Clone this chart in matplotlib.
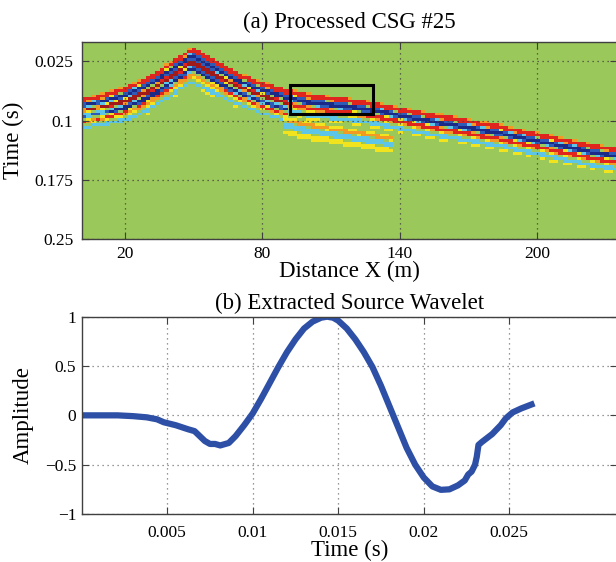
import numpy as np
import matplotlib
matplotlib.use("Agg")
import matplotlib.pyplot as plt
from matplotlib.colors import ListedColormap, BoundaryNorm
from matplotlib.patches import Rectangle

# ---------------- data ----------------
# (b) extracted source wavelet
wavelet_time = [0.0, 0.0010, 0.0021, 0.0030, 0.0038, 0.0044, 0.0048, 0.0055, 0.0062,
                0.0066, 0.0069, 0.0072, 0.0075, 0.0078, 0.0081, 0.0086, 0.0090, 0.0095,
                0.0100, 0.0105, 0.0110, 0.0115, 0.0120, 0.0125, 0.0130, 0.0135, 0.0140,
                0.01435, 0.0147, 0.0150, 0.0155, 0.0160, 0.0165, 0.0170, 0.0175, 0.0180,
                0.0185, 0.0190, 0.0195, 0.0200, 0.0205, 0.0210, 0.0215, 0.0220, 0.0224,
                0.0226, 0.0228, 0.0230, 0.0231, 0.0232, 0.0234, 0.0240, 0.0245, 0.0248,
                0.0252, 0.0257, 0.0263]
wavelet_amp = [0.0, 0.0, 0.0, -0.008, -0.02, -0.04, -0.07, -0.10, -0.14,
               -0.16, -0.21, -0.26, -0.29, -0.29, -0.305, -0.28, -0.21, -0.10,
               0.02, 0.17, 0.33, 0.49, 0.64, 0.77, 0.88, 0.95, 0.99,
               1.0, 0.99, 0.96, 0.88, 0.77, 0.64, 0.49, 0.30, 0.09,
               -0.12, -0.33, -0.50, -0.63, -0.72, -0.755, -0.75, -0.71, -0.66,
               -0.60, -0.57, -0.50, -0.42, -0.30, -0.27, -0.19, -0.10, -0.03,
               0.03, 0.07, 0.11]

# (a) processed CSG: arrival picks (distance, time of top of event band, amplitude)
main_x = [1, 10, 20, 30, 40, 49, 60, 70, 80, 90, 100, 115, 130, 140, 155, 170, 185, 200, 215, 227, 235]
main_t = [0.071, 0.066, 0.057, 0.044, 0.026, 0.007, 0.025, 0.040, 0.051, 0.060, 0.066, 0.071,
          0.077, 0.083, 0.091, 0.098, 0.106, 0.115, 0.124, 0.131, 0.134]
main_a = 1.0
second_x = [1, 20, 30, 40, 49, 60, 70, 80, 90]
second_t = [0.082, 0.072, 0.060, 0.041, 0.023, 0.040, 0.053, 0.064, 0.073]
second_a = 0.7
third_x = [90, 100, 115, 130, 136]
third_t = [0.096, 0.102, 0.109, 0.116, 0.119]
third_a = 0.5
# band colour profile across an event (offset below pick, amplitude)
profile_off = [0.0, 0.003, 0.006, 0.008, 0.011, 0.014, 0.017, 0.020, 0.023,
               0.026, 0.029, 0.032, 0.035]
profile_amp = [0.4, 0.8, 0.85, -0.6, -0.9, -0.7, 0.6, 0.7, 0.25,
               -0.3, -0.3, 0.25, 0.0]
box_x = [92, 128.3]
box_t = [0.0545, 0.0917]

top_xticks = [20, 80, 140, 200]
top_yticks = [0.025, 0.1, 0.175, 0.25]
top_yticklabels = ["0.025", "0.1", "0.175", "0.25"]
bot_xticks = [0.005, 0.01, 0.015, 0.02, 0.025]
bot_xticklabels = ["0.005", "0.01", "0.015", "0.02", "0.025"]
bot_yticks = [-1, -0.5, 0, 0.5, 1]
bot_yticklabels = ["\u22121", "\u22120.5", "0", "0.5", "1"]

# ---------------- build section image ----------------
dx, dt = 2.0, 0.0033
xs = np.arange(0.0, 236.0 + dx, dx)
ts = np.arange(0.0, 0.25 + dt, dt)
img = np.zeros((len(ts), len(xs)))
for ex, et, ea in [(main_x, main_t, main_a), (second_x, second_t, second_a), (third_x, third_t, third_a)]:
    for j, x in enumerate(xs):
        if x < ex[0] - 1 or x > ex[-1] + 1:
            continue
        t0 = np.interp(x, ex, et)
        img[:, j] += ea * np.interp(ts - t0, profile_off, profile_amp, left=0.0, right=0.0)
img = np.clip(img, -1, 1)

colors = ["#1b2a87", "#2f5bb8", "#5dc6e8", "#9bc85a", "#f2e31f", "#f39a24", "#e0241e", "#a01a1a"]
bounds = [-1.01, -0.75, -0.45, -0.15, 0.15, 0.35, 0.55, 0.85, 1.01]
cmap = ListedColormap(colors)
norm = BoundaryNorm(bounds, cmap.N)

# ---------------- figure ----------------
plt.rcParams['font.family'] = ['Liberation Serif', 'DejaVu Serif']
W, H = 616, 562
fig = plt.figure(figsize=(W / 100, H / 100), dpi=100)

def axrect(l, r, t, b):
    return [l / W, 1 - b / H, (r - l) / W, (b - t) / H]

spine_c = "#404040"
ax1 = fig.add_axes(axrect(81.7, 617, 41.7, 239))
ax1.imshow(img, cmap=cmap, norm=norm, aspect='auto', interpolation='nearest',
           extent=[xs[0] - dx / 2, xs[-1] + dx / 2, ts[-1] + dt / 2, ts[0] - dt / 2], zorder=0)
ax1.set_xlim(1.1, 235.0)
ax1.set_ylim(0.25, 0.0)
ax1.add_patch(Rectangle((box_x[0], box_t[0]), box_x[1] - box_x[0], box_t[1] - box_t[0],
                        fill=False, edgecolor='black', lw=2.2, zorder=3))
ax1.set_xticks(top_xticks)
ax1.set_yticks(top_yticks)
ax1.set_yticklabels(top_yticklabels)
ax1.grid(True, linestyle=(0, (1, 3)), color='#444444', lw=0.9)
ax1.set_axisbelow(False)
ax1.tick_params(direction='in', top=True, right=True, length=5, labelsize=12.5, color=spine_c)
ax1.tick_params(axis='x', pad=5)
ax1.tick_params(axis='y', pad=6)
ax1.set_title("(a) Processed CSG #25", fontsize=16.5, pad=9.5)
ax1.set_xlabel("Distance X (m)", fontsize=16.5)
ax1.set_ylabel("Time (s)", fontsize=16.5)
ax1.xaxis.set_label_coords(0.5, -0.113)
ax1.yaxis.set_label_coords(-0.108, 0.5)

ax2 = fig.add_axes(axrect(81.7, 617, 316.7, 514))
ax2.plot(wavelet_time, wavelet_amp, color='#2d4fa6', lw=4.5, solid_joinstyle='round')
ax2.set_xlim(0.0, 0.0313)
ax2.set_ylim(-1, 1)
ax2.set_xticks(bot_xticks)
ax2.set_xticklabels(bot_xticklabels)
ax2.set_yticks(bot_yticks)
ax2.set_yticklabels(bot_yticklabels)
ax2.grid(True, linestyle=(0, (1, 3)), color='#777777', lw=0.9)
ax2.tick_params(direction='in', top=True, right=True, length=5, labelsize=12.5, color=spine_c)
ax2.tick_params(axis='x', pad=8)
ax2.tick_params(axis='y', pad=4)
ax2.set_title("(b) Extracted Source Wavelet", fontsize=16.5, pad=5.3)
ax2.set_xlabel("Time (s)", fontsize=16.5)
ax2.set_ylabel("Amplitude", fontsize=16.5)
ax2.xaxis.set_label_coords(0.5, -0.13)
ax2.yaxis.set_label_coords(-0.089, 0.5)

for ax in (ax1, ax2):
    for s in ax.spines.values():
        s.set_color(spine_c)
        s.set_linewidth(1.0)

fig.savefig("out.png", dpi=100)
